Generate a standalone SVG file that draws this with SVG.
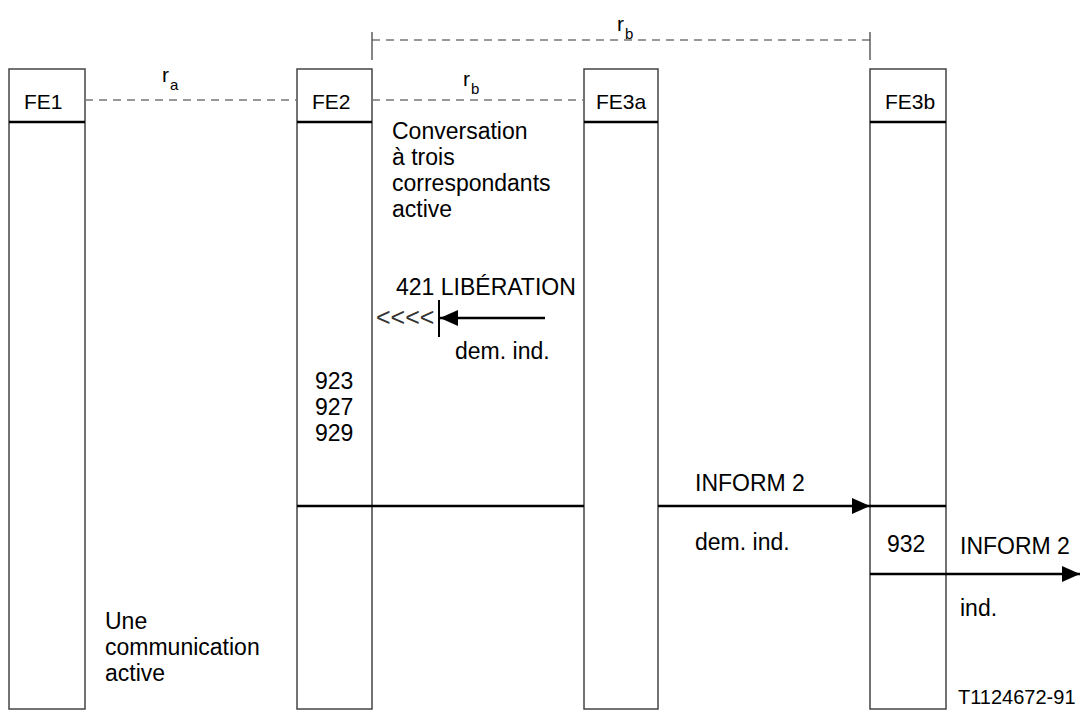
<svg xmlns="http://www.w3.org/2000/svg" width="1082" height="711" viewBox="0 0 1082 711">
<style>
.box{fill:#fff;stroke:#444;stroke-width:1.5}
.hdr{stroke:#000;stroke-width:2.5}
.t{font-family:"Liberation Sans",Arial,sans-serif;font-size:23px;fill:#000}
.fe{font-family:"Liberation Sans",Arial,sans-serif;font-size:21px;fill:#000}
.sub{font-family:"Liberation Sans",Arial,sans-serif;font-size:15px;fill:#000}
.dash{stroke:#777;stroke-width:1.3;stroke-dasharray:8,6;fill:none}
.msg{stroke:#000;stroke-width:2.5;fill:none}
</style>
<defs>
<marker id="ah" markerWidth="18" markerHeight="16" refX="18" refY="8" orient="auto" markerUnits="userSpaceOnUse">
<path d="M0,0 L18,8 L0,16 Z" fill="#000"/>
</marker>
</defs>
<rect width="1082" height="711" fill="#fff"/>
<g id="FE1">
<rect class="box" x="9" y="69" width="76" height="640"/>
<line class="hdr" x1="9" y1="122" x2="85" y2="122"/>
<text class="fe" x="24" y="109">FE1</text>
</g>
<g id="FE2">
<rect class="box" x="297" y="69" width="75" height="640"/>
<line class="hdr" x1="297" y1="122" x2="372" y2="122"/>
<text class="fe" x="312" y="109">FE2</text>
</g>
<g id="FE3a">
<rect class="box" x="584" y="69" width="74" height="640"/>
<line class="hdr" x1="584" y1="122" x2="658" y2="122"/>
<text class="fe" x="596" y="109">FE3a</text>
</g>
<g id="FE3b">
<rect class="box" x="870" y="69" width="76" height="640"/>
<line class="hdr" x1="870" y1="122" x2="946" y2="122"/>
<text class="fe" x="885" y="109">FE3b</text>
</g>
<g id="connectors">
<line class="dash" x1="85" y1="100" x2="297" y2="100"/>
<line class="dash" x1="372" y1="100" x2="584" y2="100"/>
<line class="dash" x1="372" y1="40" x2="870" y2="40"/>
<line stroke="#444" stroke-width="1.3" x1="372" y1="32" x2="372" y2="60"/>
<line stroke="#444" stroke-width="1.3" x1="870" y1="32" x2="870" y2="60"/>
<line class="msg" x1="545" y1="318" x2="440" y2="318" marker-end="url(#ah)"/>
<line stroke="#000" stroke-width="2" x1="439" y1="300" x2="439" y2="337"/>
<line class="msg" x1="297" y1="506" x2="584" y2="506"/>
<line class="msg" x1="658" y1="506" x2="870" y2="506" marker-end="url(#ah)"/>
<line class="msg" x1="870" y1="506" x2="946" y2="506"/>
<line class="msg" x1="870" y1="574" x2="1080" y2="574" marker-end="url(#ah)"/>
</g>
<g id="labels">
<text class="fe" x="162" y="82">r</text><text class="sub" x="170" y="90">a</text>
<text class="fe" x="463" y="86">r</text><text class="sub" x="471" y="94">b</text>
<text class="fe" x="617" y="31">r</text><text class="sub" x="625" y="39">b</text>
<text class="t" x="392" y="139">Conversation</text>
<text class="t" x="392" y="165">à trois</text>
<text class="t" x="392" y="191">correspondants</text>
<text class="t" x="392" y="217">active</text>
<text class="t" x="396" y="295">421 LIBÉRATION</text>
<text x="376" y="326" font-family="Liberation Sans,Arial,sans-serif" font-size="25" fill="#333">&lt;&lt;&lt;&lt;</text>
<text class="t" x="455" y="359">dem. ind.</text>
<text class="t" x="315" y="389">923</text>
<text class="t" x="315" y="415">927</text>
<text class="t" x="315" y="441">929</text>
<text class="t" x="695" y="491">INFORM 2</text>
<text class="t" x="695" y="550">dem. ind.</text>
<text class="t" x="887" y="552">932</text>
<text class="t" x="960" y="554">INFORM 2</text>
<text class="t" x="960" y="616">ind.</text>
<text class="t" x="105" y="629">Une</text>
<text class="t" x="105" y="655">communication</text>
<text class="t" x="105" y="681">active</text>
<text x="958" y="704" font-family="Liberation Sans,Arial,sans-serif" font-size="20" fill="#000">T1124672-91</text>
</g>
</svg>
